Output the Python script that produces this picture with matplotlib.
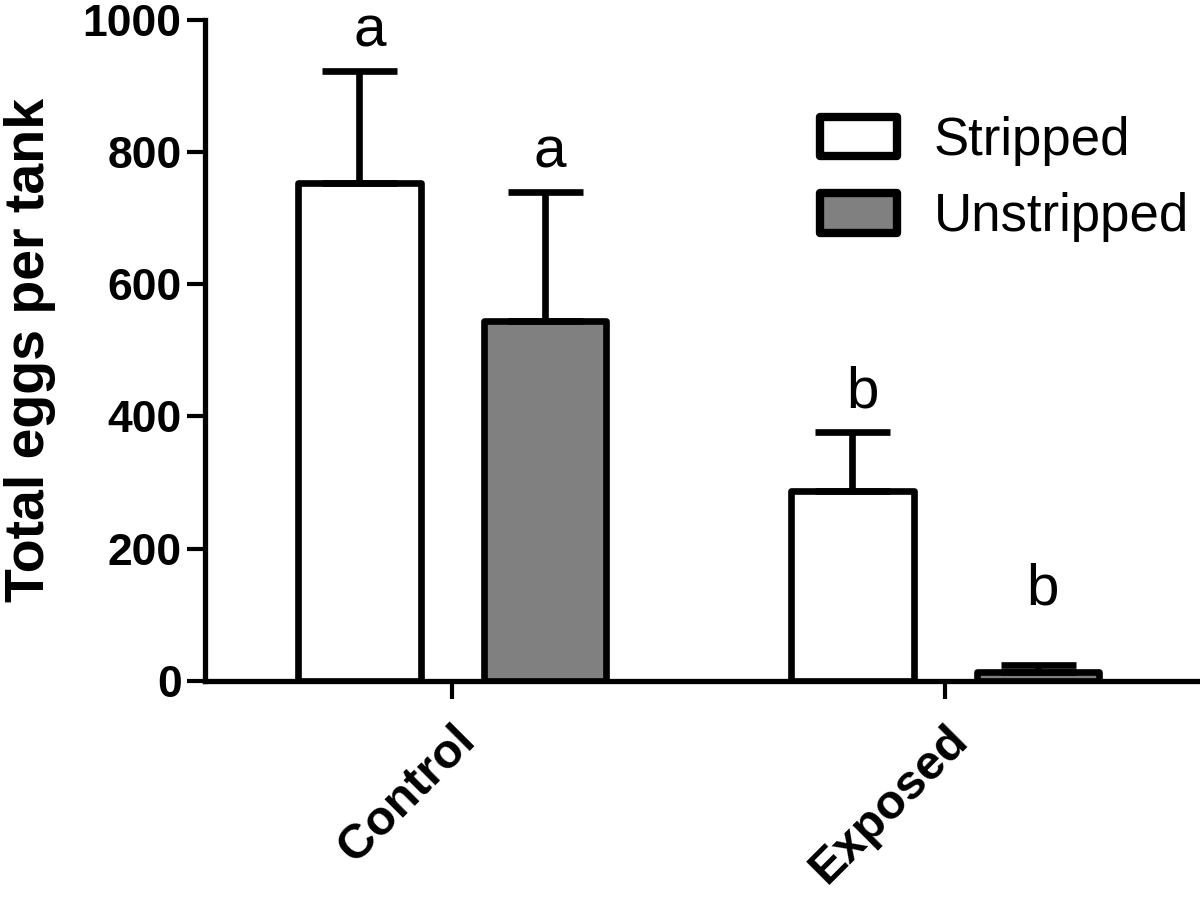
import numpy as np
import matplotlib
matplotlib.use("Agg")
import matplotlib.pyplot as plt

plt.rcParams['font.family'] = ['Liberation Sans', 'DejaVu Sans']

groups = ['Control', 'Exposed']
series = ['Stripped', 'Unstripped']
stripped_mean = [753, 287]
stripped_err = [170, 90]
unstripped_mean = [545, 14]
unstripped_err = [195, 10]
letters_stripped = ['a', 'b']
letters_unstripped = ['a', 'b']

fig = plt.figure(figsize=(12, 8.97), dpi=100)
ax = fig.add_axes([0.171, 0.241, 0.829, 0.737])

x = np.arange(len(groups))
width = 0.248
offset = 0.188
lw = 4.8

def draw(xpos, means, errs, color, label):
    bars = ax.bar(xpos, means, width, color=color, edgecolor='black',
                  linewidth=lw, label=label, zorder=2)
    for b in bars:
        b.set_joinstyle('round')
    ax.errorbar(xpos, means, yerr=[np.zeros(len(errs)), errs], fmt='none',
                ecolor='black', elinewidth=lw, capsize=27, capthick=lw,
                zorder=3)

draw(x - offset, stripped_mean, stripped_err, 'white', series[0])
draw(x + offset, unstripped_mean, unstripped_err, '#808080', series[1])

# significance letters
for i in range(len(groups)):
    ax.text(x[i] - offset + 0.02, stripped_mean[i] + stripped_err[i] + 18,
            letters_stripped[i], ha='center', va='bottom', fontsize=42)
    extra = 18 if unstripped_mean[i] > 100 else 74
    ax.text(x[i] + offset + 0.01, unstripped_mean[i] + unstripped_err[i] + extra,
            letters_unstripped[i], ha='center', va='bottom', fontsize=42)

ax.set_xlim(-0.501, 1.517)
ax.set_ylim(0, 1000)
ax.set_yticks([0, 200, 400, 600, 800, 1000])
ax.set_xticks(x)
ax.set_xticklabels(groups, rotation=45, ha='right', rotation_mode='anchor',
                   fontsize=35, fontweight='bold')
for t in ax.get_yticklabels():
    t.set_fontsize(32)
    t.set_fontweight('bold')
ax.set_ylabel('Total eggs per tank', fontsize=40, fontweight='bold', labelpad=19)

for s in ['top', 'right']:
    ax.spines[s].set_visible(False)
for s in ['left', 'bottom']:
    ax.spines[s].set_linewidth(3.8)
ax.tick_params(axis='both', direction='out', length=13, width=3, pad=4)
ax.tick_params(axis='x', pad=13)

leg = ax.legend(loc='upper left', bbox_to_anchor=(820 / 1200, 1 - 116 / 897),
                bbox_transform=fig.transFigure, frameon=False, fontsize=38,
                handlelength=1.45, handleheight=0.78, handletextpad=0.7,
                labelspacing=0.5, borderpad=0, borderaxespad=0)
for h in leg.legend_handles:
    h.set_linewidth(6)
    h.set_joinstyle('round')

ax.patch.set_visible(False)
fig.savefig('out.png', dpi=100)
